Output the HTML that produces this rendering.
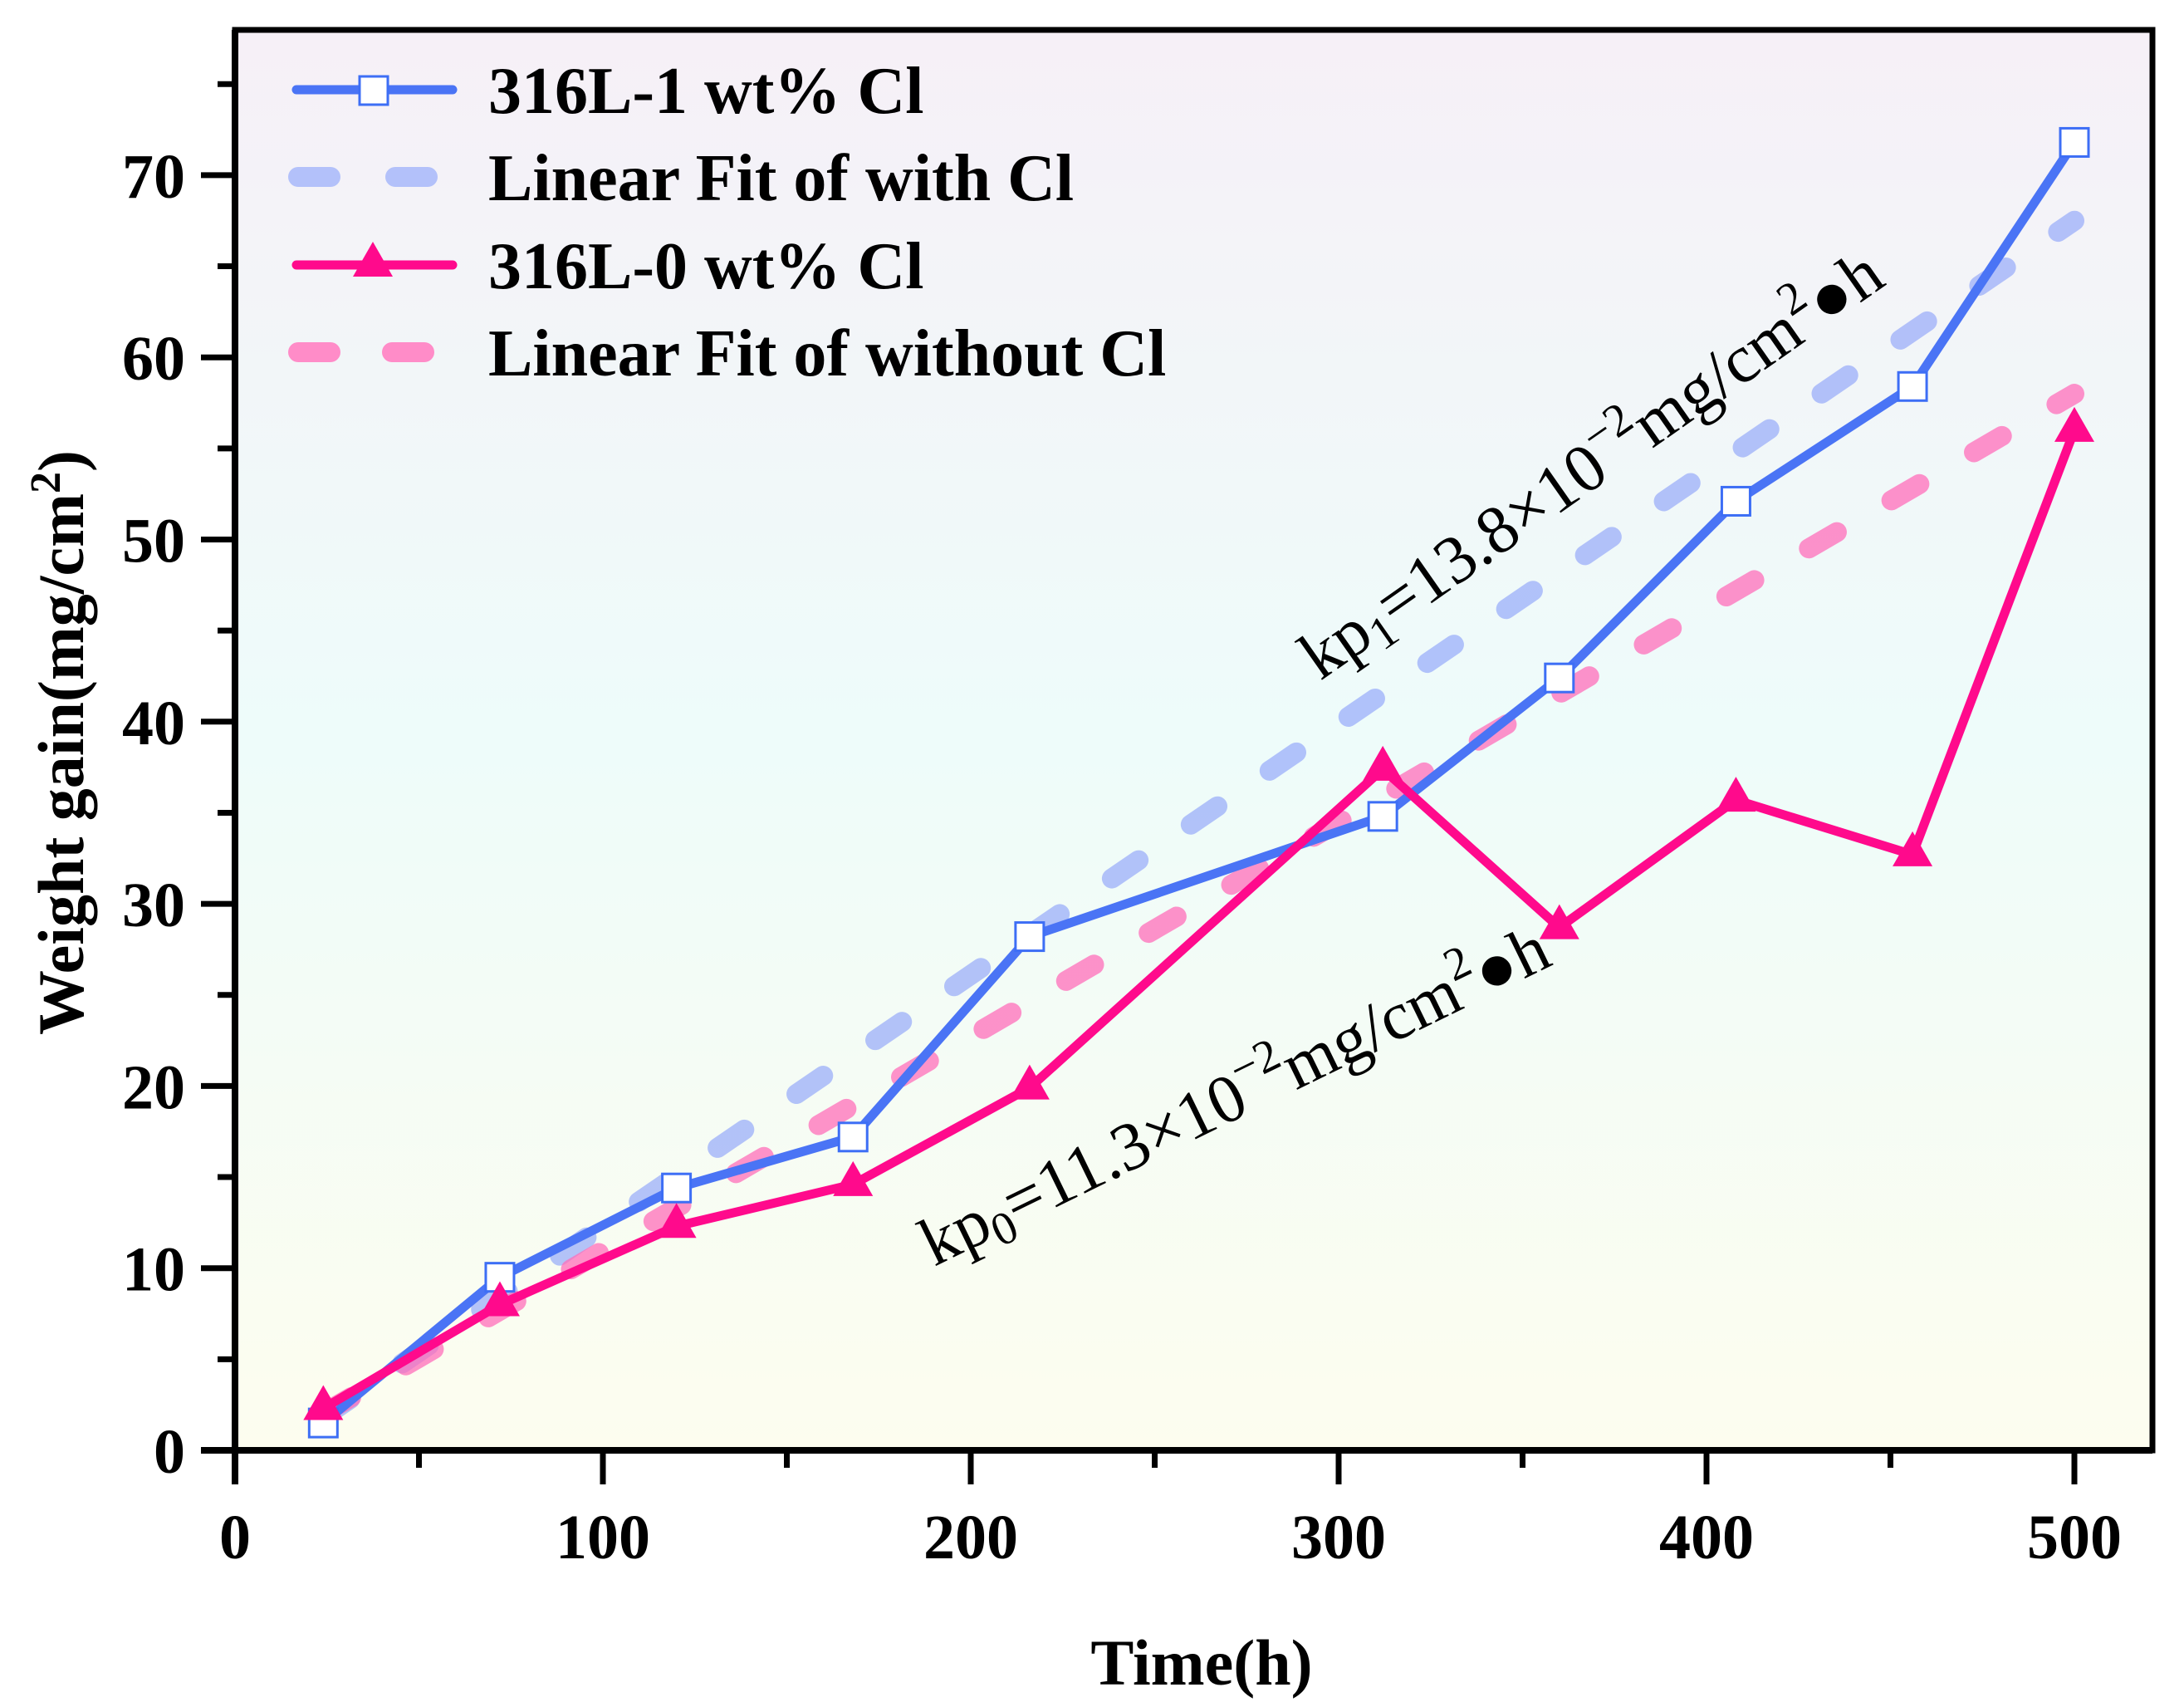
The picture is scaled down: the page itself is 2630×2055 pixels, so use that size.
<!DOCTYPE html>
<html><head><meta charset="utf-8"><style>
html,body{margin:0;padding:0;background:#fff;}
svg{display:block;font-family:"Liberation Serif",serif;}
</style></head><body>
<svg id="chart" width="2630" height="2055" viewBox="0 0 2630 2055" xmlns="http://www.w3.org/2000/svg">
<defs>
<linearGradient id="bg" x1="0" y1="0" x2="0" y2="1">
<stop offset="0" stop-color="#f6f0f7"/>
<stop offset="0.5" stop-color="#eefcfa"/>
<stop offset="1" stop-color="#fdfdef"/>
</linearGradient>
</defs>
<rect x="283" y="36" width="2309" height="1710" fill="url(#bg)"/>
<g id="fits"></g>
<g id="series"></g>
<rect x="283" y="36" width="2309" height="1710" fill="none" stroke="#000" stroke-width="7"/>
<g id="axes"></g>
<g>
<line x1="357" y1="108" x2="545" y2="108" stroke="#4a74f5" stroke-width="11" stroke-linecap="round"/>
<rect x="433" y="92" width="34" height="34" fill="#fff" stroke="#3d6ef5" stroke-width="3"/>
<text x="588" y="136" font-size="80" font-weight="bold">316L-1 wt% Cl</text>
<line x1="359" y1="213" x2="545" y2="213" stroke="#b3c1fa" stroke-width="24" stroke-linecap="round" stroke-dasharray="39 78"/>
<text x="588" y="241" font-size="80" font-weight="bold">Linear Fit of with Cl</text>
<line x1="357" y1="319" x2="545" y2="319" stroke="#ff0a8c" stroke-width="11" stroke-linecap="round"/>
<polygon points="449,291 425,333 473,333" fill="#ff0a8c"/>
<text x="588" y="347" font-size="80" font-weight="bold">316L-0 wt% Cl</text>
<line x1="359" y1="424" x2="545" y2="424" stroke="#ff8cc8" stroke-width="24" stroke-linecap="round" stroke-dasharray="39 74"/>
<text x="588" y="452" font-size="80" font-weight="bold">Linear Fit of without Cl</text>
</g>
<text transform="translate(1590,820) rotate(-35)" font-size="82">kp<tspan font-size="56" dy="14">1</tspan><tspan dy="-14">=13.8×10</tspan><tspan font-size="56" dy="-34">−2</tspan><tspan dy="34">mg/cm</tspan><tspan font-size="56" dy="-34">2</tspan><tspan dy="34">●h</tspan></text>
<text transform="translate(1125,1525) rotate(-26)" font-size="82">kp<tspan font-size="56" dy="14">0</tspan><tspan dy="-14">=11.3×10</tspan><tspan font-size="56" dy="-34">−2</tspan><tspan dy="34">mg/cm</tspan><tspan font-size="56" dy="-34">2</tspan><tspan dy="34">●h</tspan></text>
<text x="1447" y="2028" font-size="78" font-weight="bold" text-anchor="middle">Time(h)</text>
<text transform="translate(100,894) rotate(-90)" font-size="78" font-weight="bold" text-anchor="middle">Weight gain(mg/cm<tspan font-size="52" dy="-28">2</tspan><tspan dy="28">)</tspan></text>
</svg>
<script>
const times = [24, 72, 120, 168, 216, 312, 360, 408, 456, 500];
const withCl = [1.5, 9.5, 14.4, 17.2, 28.2, 34.8, 42.4, 52.1, 58.4, 71.8];
const withoutCl = [2.3, 8.0, 12.3, 14.6, 19.9, 37.4, 28.7, 35.7, 32.7, 56.0];
const fitWith = [0.138, -1.5];
const fitWithout = [0.1176, -0.8];
const xTicks = [0, 100, 200, 300, 400, 500];
const yTicks = [0, 10, 20, 30, 40, 50, 60, 70];

const NS = 'http://www.w3.org/2000/svg';
const X0 = 283, XS = 4.43, Y0 = 1746, YS = 21.93;
const sx = v => X0 + v * XS;
const sy = v => Y0 - v * YS;
function mk(tag, attrs, parent) {
  const e = document.createElementNS(NS, tag);
  for (const k in attrs) e.setAttribute(k, attrs[k]);
  parent.appendChild(e);
  return e;
}
const axes = document.getElementById('axes');
const fits = document.getElementById('fits');
const series = document.getElementById('series');

let l = mk('line', {x1: 242, y1: Y0, x2: 2592, y2: Y0, stroke: '#000', 'stroke-width': 8}, axes);


l = mk('line', {x1: X0, y1: 36, x2: X0, y2: 1787, stroke: '#000', 'stroke-width': 8}, axes);


xTicks.forEach(v => {
  const t = mk('line', {x1: sx(v), y1: Y0, x2: sx(v), y2: Y0 + 41, stroke: '#000', 'stroke-width': 7}, axes);
  
  
  const m = mk('line', {x1: sx(v + 50), y1: Y0, x2: sx(v + 50), y2: Y0 + 21, stroke: '#000', 'stroke-width': 7}, axes);
  
  
  const tx = mk('text', {x: sx(v), y: Y0 + 130, 'font-size': 76, 'font-weight': 'bold', 'text-anchor': 'middle'}, axes);
  
  
  tx.textContent = v;
});
yTicks.forEach(v => {
  const t = mk('line', {x1: X0 - 41, y1: sy(v), x2: X0, y2: sy(v), stroke: '#000', 'stroke-width': 7}, axes);
  
  
  const m = mk('line', {x1: X0 - 21, y1: sy(v + 5), x2: X0, y2: sy(v + 5), stroke: '#000', 'stroke-width': 7}, axes);
  
  
  const tx = mk('text', {x: X0 - 60, y: sy(v) + 27, 'font-size': 76, 'font-weight': 'bold', 'text-anchor': 'end'}, axes);
  
  
  tx.textContent = v;
});

function fitLine(f, color, name, dash) {
  const a = times[0], b = times[times.length - 1];
  const e = mk('line', {x1: sx(a), y1: sy(f[0] * a + f[1]), x2: sx(b), y2: sy(f[0] * b + f[1]), stroke: color, 'stroke-width': 24, 'stroke-linecap': 'round', 'stroke-dasharray': dash}, fits);
  
  
}
fitLine(fitWith, 'rgba(150,170,250,0.7)', 'fit-line-with-cl', '39 76');
fitLine(fitWithout, 'rgba(255,110,185,0.75)', 'fit-line-without-cl', '39 76');

function seriesLine(vals, color, name) {
  const pts = times.map((t, i) => sx(t) + ',' + sy(vals[i])).join(' ');
  const e = mk('polyline', {points: pts, fill: 'none', stroke: color, 'stroke-width': 11, 'stroke-linejoin': 'round'}, series);
  
  
}
seriesLine(withCl, '#4a74f5', 'line-316l-1wt-cl');
seriesLine(withoutCl, '#ff0a8c', 'line-316l-0wt-cl');
times.forEach((t, i) => {
  const r = mk('rect', {x: sx(t) - 17, y: sy(withCl[i]) - 17, width: 34, height: 34, fill: '#fff', stroke: '#3d6ef5', 'stroke-width': 3}, series);
  
  
});
times.forEach((t, i) => {
  const x = sx(t), y = sy(withoutCl[i]);
  const p = mk('polygon', {points: `${x},${y - 28} ${x - 24},${y + 14} ${x + 24},${y + 14}`, fill: '#ff0a8c'}, series);
  
  
});
</script>
</body></html>
